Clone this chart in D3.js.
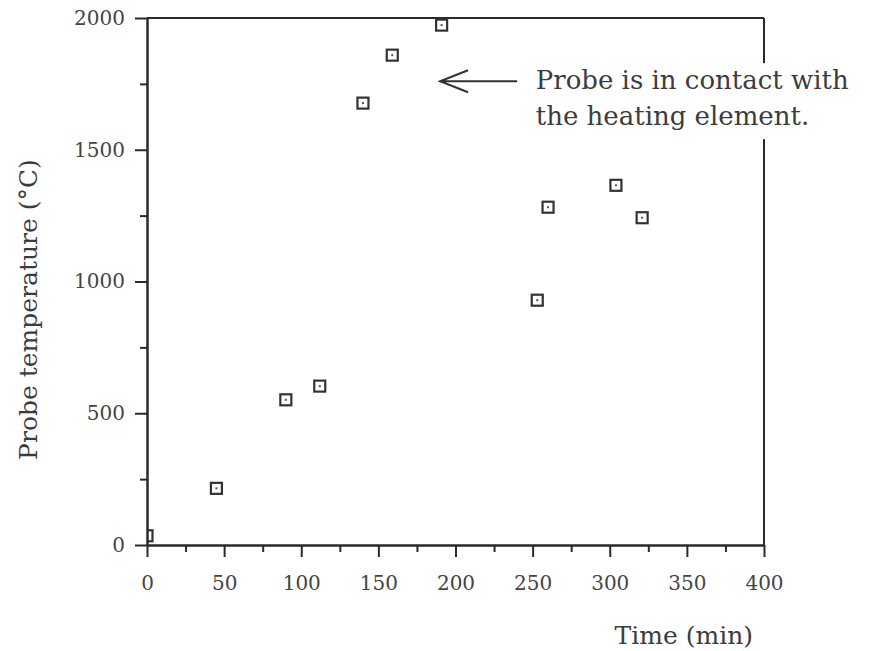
<!DOCTYPE html>
<html>
<head>
<meta charset="utf-8">
<script src="https://cdn.jsdelivr.net/npm/d3@7"></script>
<style>
    body { margin: 0; background: #fff; }
    svg text { font-family: "DejaVu Serif", serif; }
</style>
</head>
<body>
<div id="chart"></div>
<script>

// probe readings
const timeMin = [0, 45, 90, 112, 140, 159, 191, 253, 260, 304, 321];
const probeTemp = [35, 215, 551, 603, 1677, 1859, 1973, 929, 1282, 1365, 1242];

const xMajorTicks = [0, 50, 100, 150, 200, 250, 300, 350, 400];
const xMinorTicks = [25, 75, 125, 175, 225, 275, 325, 375];
const yMajorTicks = [0, 500, 1000, 1500, 2000];
const yMinorTicks = [250, 750, 1250, 1750];

const annotationLines = ["Probe is in contact with", "the heating element."];
// arrow tip / tail and text anchor in data units
const arrowFrom = [240, 1760];
const arrowTo = [190, 1760];
const noteAt = [252, 1730];

const width = 876, height = 651;
const margin = {top: 18, right: 112, bottom: 106, left: 147};
const innerW = width - margin.left - margin.right;
const innerH = height - margin.top - margin.bottom;

const ink = "#2a2a2a";
const labelInk = "#3c3c3c";

let svg = d3.select("#chart").append("svg")
    .attr("width", width)
    .attr("height", height);

let g = svg.append("g")
    .attr("transform", `translate(${margin.left},${margin.top})`);

let x = d3.scaleLinear().domain([0, 400]).range([0, innerW]);
let y = d3.scaleLinear().domain([0, 2000]).range([innerH, 0]);

// clip so the marker sitting on t=0 is cut by the axis
g.append("clipPath").attr("id", "plot-clip")
    .append("rect")
    .attr("x", 0).attr("y", -10)
    .attr("width", innerW + 10).attr("height", innerH + 10);

// frame: top and right edges
g.append("line")
    .attr("x1", 0).attr("x2", x(400))
    .attr("y1", y(2000)).attr("y2", y(2000))
    .attr("stroke", ink).attr("stroke-width", 2);
g.append("line")
    .attr("x1", x(400)).attr("x2", x(400))
    .attr("y1", y(2000)).attr("y2", y(0))
    .attr("stroke", ink).attr("stroke-width", 2);

// markers
let points = g.append("g").attr("clip-path", "url(#plot-clip)")
    .selectAll(".pt")
    .data(d3.zip(timeMin, probeTemp))
    .enter().append("g")
    .attr("class", "pt")
    .attr("transform", d => `translate(${x(d[0])},${y(d[1])})`);

points.append("rect")
    .attr("x", -5.5).attr("y", -5.5)
    .attr("width", 11).attr("height", 11)
    .attr("fill", "#fff")
    .attr("stroke", "#333")
    .attr("stroke-width", 2.2);
points.append("rect")
    .attr("x", -1).attr("y", -1)
    .attr("width", 2).attr("height", 2)
    .attr("fill", "#555");

// axes, major + minor
function styleAxis(sel) {
    sel.select(".domain").attr("stroke", ink).attr("stroke-width", 2);
    sel.selectAll(".tick line").attr("stroke", ink).attr("stroke-width", 2);
    sel.selectAll(".tick text")
        .attr("fill", "#444")
        .style("font-size", "20px")
        .style("font-family", "DejaVu Serif, serif");
}

g.append("g")
    .attr("transform", `translate(0,${innerH})`)
    .call(d3.axisBottom(x).tickValues(xMinorTicks).tickSize(7).tickFormat("").tickSizeOuter(0))
    .call(styleAxis);
g.append("g")
    .attr("transform", `translate(0,${innerH})`)
    .call(d3.axisBottom(x).tickValues(xMajorTicks).tickSize(12).tickPadding(19).tickFormat(d3.format("d")).tickSizeOuter(0))
    .call(styleAxis);

g.append("g")
    .call(d3.axisLeft(y).tickValues(yMinorTicks).tickSize(7).tickFormat("").tickSizeOuter(0))
    .call(styleAxis);
g.append("g")
    .call(d3.axisLeft(y).tickValues(yMajorTicks).tickSize(12).tickPadding(10).tickFormat(d3.format("d")).tickSizeOuter(0))
    .call(styleAxis);

// axis titles
svg.append("text")
    .attr("x", 753).attr("y", 644)
    .attr("text-anchor", "end")
    .attr("fill", labelInk)
    .style("font-size", "25px")
    .text("Time (min)");

svg.append("text")
    .attr("transform", `translate(37,${margin.top + innerH / 2 + 28}) rotate(-90)`)
    .attr("text-anchor", "middle")
    .attr("fill", labelInk)
    .style("font-size", "25px")
    .text("Probe temperature (°C)");

// annotation: white box behind the text cuts the right frame
let note = g.append("g");
let noteBg = note.append("rect").attr("fill", "#fff");
let noteText = note.append("text")
    .attr("x", x(noteAt[0]))
    .attr("y", y(noteAt[1]))
    .attr("fill", labelInk)
    .style("font-size", "26px");
noteText.selectAll("tspan")
    .data(annotationLines)
    .enter().append("tspan")
    .attr("x", x(noteAt[0]))
    .attr("dy", (d, i) => i === 0 ? 0 : 36)
    .text(d => d);

let bb = noteText.node().getBBox();
noteBg.attr("x", bb.x - 4).attr("y", bb.y - 2)
    .attr("width", bb.width + 8).attr("height", bb.height + 10);

// arrow pointing back at the hot readings
let ax0 = x(arrowFrom[0]), ax1 = x(arrowTo[0]), ay = y(arrowTo[1]);
note.append("path")
    .attr("d", `M${ax0},${ay}L${ax1},${ay}M${ax1 + 28},${ay - 11}L${ax1},${ay}L${ax1 + 28},${ay + 11}`)
    .attr("fill", "none")
    .attr("stroke", "#333")
    .attr("stroke-width", 2);

</script>
</body>
</html>
